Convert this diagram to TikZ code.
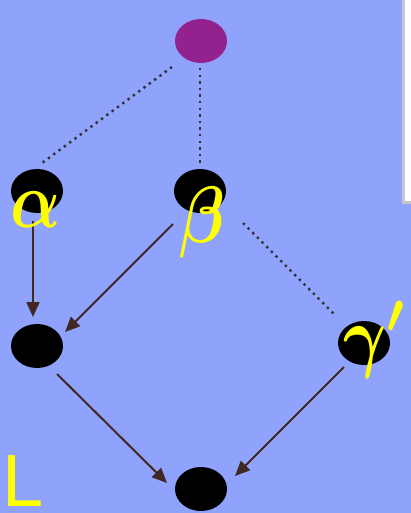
\documentclass[tikz,border=0pt]{standalone}
\usepackage{amsmath}
\usepackage{fontspec}
\newfontfamily\labelsans{Liberation Sans}
\usetikzlibrary{arrows.meta,calc,shapes.geometric}

\definecolor{bgblue}{RGB}{143,163,252}
\definecolor{topviolet}{RGB}{147,34,143}
\definecolor{edgebrown}{RGB}{66,40,34}
\definecolor{dotgray}{RGB}{55,45,50}
\definecolor{lblyellow}{RGB}{255,255,0}
\definecolor{panelgray}{RGB}{200,200,200}

% large, slightly condensed bold math letters (set at 10pt, then scaled)
\newcommand{\bigmath}[1]{\scalebox{6.6}[8.0]{$\boldsymbol{#1}$}}

\tikzset{
  vertex/.style={ellipse, minimum width=52pt, minimum height=44pt, inner sep=0pt},
  blackvertex/.style={vertex, fill=black},
  topvertex/.style={vertex, fill=topviolet},
  greek/.style={text=lblyellow, inner sep=0pt, anchor=base, font=\fontsize{10}{12}\selectfont},
  cornerlabel/.style={text=lblyellow, inner sep=0pt, anchor=base west,
    font=\labelsans\fontsize{74}{74}\selectfont},
  linkdots/.style={draw=dotgray, line width=2.4pt, dash pattern=on 2.4pt off 4.2pt},
  arrowedge/.style={draw=edgebrown, line width=2pt,
    -{Triangle[length=15pt,width=13pt]}},
}

\begin{document}
\begin{tikzpicture}[x=1pt,y=-1pt]
  % canvas
  \fill[bgblue] (0,0) rectangle (411,513);
  \useasboundingbox (0,0) rectangle (411,513);
  % white panel at the right edge
  \fill[panelgray] (402,-5) rectangle (420,204);
  \fill[white] (405,-5) rectangle (420,201);

  % vertices
  \node[topvertex]   (top)    at (201,41)  {};
  \node[blackvertex] (alpha)  at (37,191)  {};
  \node[blackvertex] (beta)   at (200,191) {};
  \node[blackvertex] (left)   at (37,346)  {};
  \node[blackvertex] (gamma)  at (364,343) {};
  \node[blackvertex] (bottom) at (201,489) {};

  % dotted links
  \draw[linkdots] ($(top)+(-29,26)$) -- ($(alpha)+(5,-28)$);
  \draw[linkdots] ($(top)+(-1,27)$) -- ($(beta)+(0,-27)$);
  \draw[linkdots] ($(beta)+(43,32)$) -- ($(gamma)+(-29,-28)$);

  % arrows
  \draw[arrowedge] ($(alpha)+(-4,30)$) -- ($(left)+(-4,-29)$);
  \draw[arrowedge] ($(beta)+(-27,33)$) -- ($(left)+(28,-14)$);
  \draw[arrowedge] ($(left)+(20,28)$) -- ($(bottom)+(-34,-6)$);
  \draw[arrowedge] ($(gamma)+(-20,24)$) -- ($(bottom)+(34,-13)$);

  % labels
  \node[greek] (alphalbl) at (36,227) {\bigmath{\alpha}};
  \node[greek] (betalbl)  at (202,242) {\bigmath{\beta}};
  \node[greek] (gammalbl) at (376,362) {\bigmath{\gamma'}};
  \node[cornerlabel] (Llbl) at (2,506) {L};
\end{tikzpicture}
\end{document}
